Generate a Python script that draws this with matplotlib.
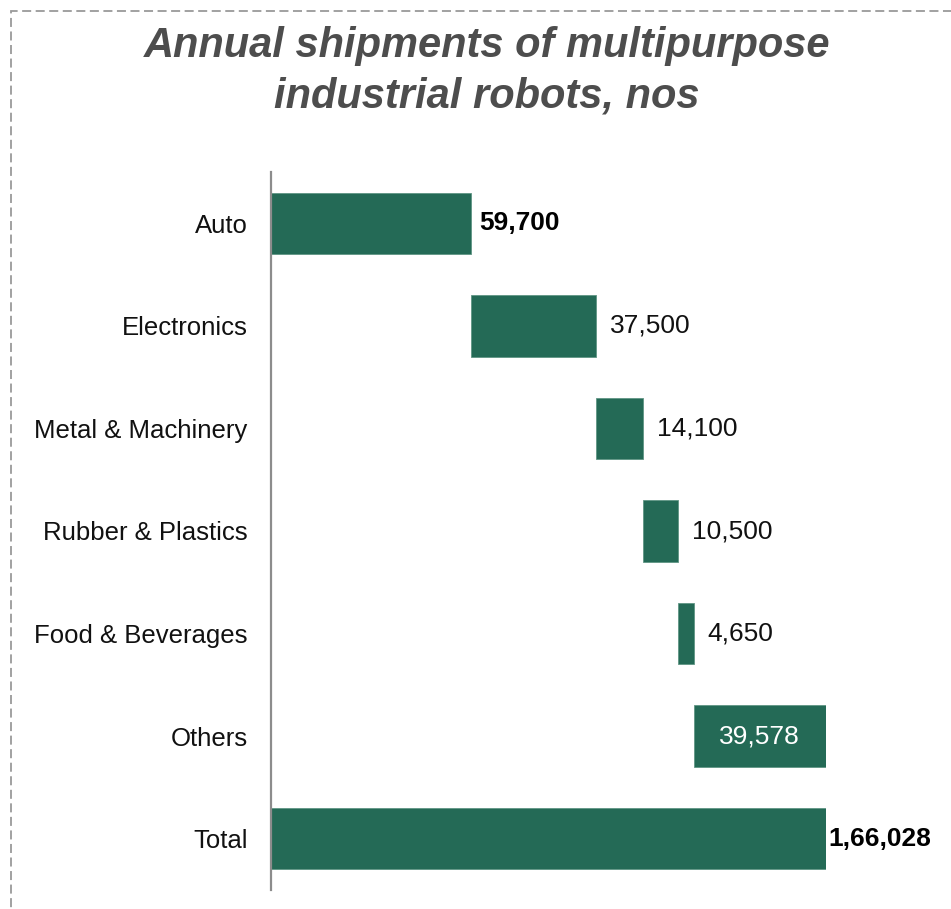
import matplotlib.pyplot as plt
from matplotlib.patches import Rectangle

plt.rcParams['font.family'] = ['Liberation Sans', 'DejaVu Sans']

categories = ["Auto", "Electronics", "Metal & Machinery", "Rubber & Plastics",
              "Food & Beverages", "Others", "Total"]
values = [59700, 37500, 14100, 10500, 4650, 39578, 166028]
value_labels = ["59,700", "37,500", "14,100", "10,500", "4,650", "39,578", "1,66,028"]

GREEN = "#246a56"

W, H = 951, 909
fig = plt.figure(figsize=(W / 100, H / 100), dpi=100)

# dashed frame around the whole graphic
fig.patches.append(Rectangle((11 / W, -0.05), 1.2, 1.05 - 11 / H,
                             transform=fig.transFigure, fill=False,
                             edgecolor="#9a9a9a", linewidth=1.3,
                             linestyle=(0, (5, 2.5))))

fig.text(487 / W, 1 - 46 / H, "Annual shipments of multipurpose",
         ha="center", va="center", fontsize=30, fontweight="bold",
         fontstyle="italic", color="#4d4d4d")
fig.text(487 / W, 1 - 96 / H, "industrial robots, nos",
         ha="center", va="center", fontsize=30, fontweight="bold",
         fontstyle="italic", color="#4d4d4d")

ax = fig.add_axes([271 / W, 1 - 890 / H, (826 - 271) / W, (890 - 172) / H])

# waterfall: each category starts where the previous one ended, total from zero
starts = []
run = 0
for i, v in enumerate(values):
    if i == len(values) - 1:
        starts.append(0)
    else:
        starts.append(run)
        run += v

ypos = list(range(len(categories)))
ax.barh(ypos, values, left=starts, height=0.6, color=GREEN,
        edgecolor="#5f9584", linewidth=0.6)

ax.set_xlim(0, values[-1])
ax.set_ylim(len(categories) - 0.5, -0.5)
ax.set_yticks(ypos)
ax.set_yticklabels(categories, fontsize=18.5, color="#111111")
ax.tick_params(axis="y", length=0, pad=17)
ax.set_xticks([])
for s in ["top", "right", "bottom"]:
    ax.spines[s].set_visible(False)
ax.spines["left"].set_color("#8c8c8c")
ax.spines["left"].set_linewidth(1.6)

bold_idx = {0, len(values) - 1}
inside_idx = {5}
for i, (s, v, lab) in enumerate(zip(starts, values, value_labels)):
    end = s + v
    if i in inside_idx:
        ax.text(s + v / 2, i, lab, ha="center", va="center", fontsize=19,
                color="white")
    elif i in bold_idx:
        off = 6 if i == 0 else 1.5
        ax.annotate(lab, (end, i), xytext=(off, 0), textcoords="offset points",
                    ha="left", va="center", fontsize=19, fontweight="bold",
                    color="black")
    else:
        ax.annotate(lab, (end, i), xytext=(10, 0), textcoords="offset points",
                    ha="left", va="center", fontsize=19, color="#111111")

fig.savefig("out.png", dpi=100)
